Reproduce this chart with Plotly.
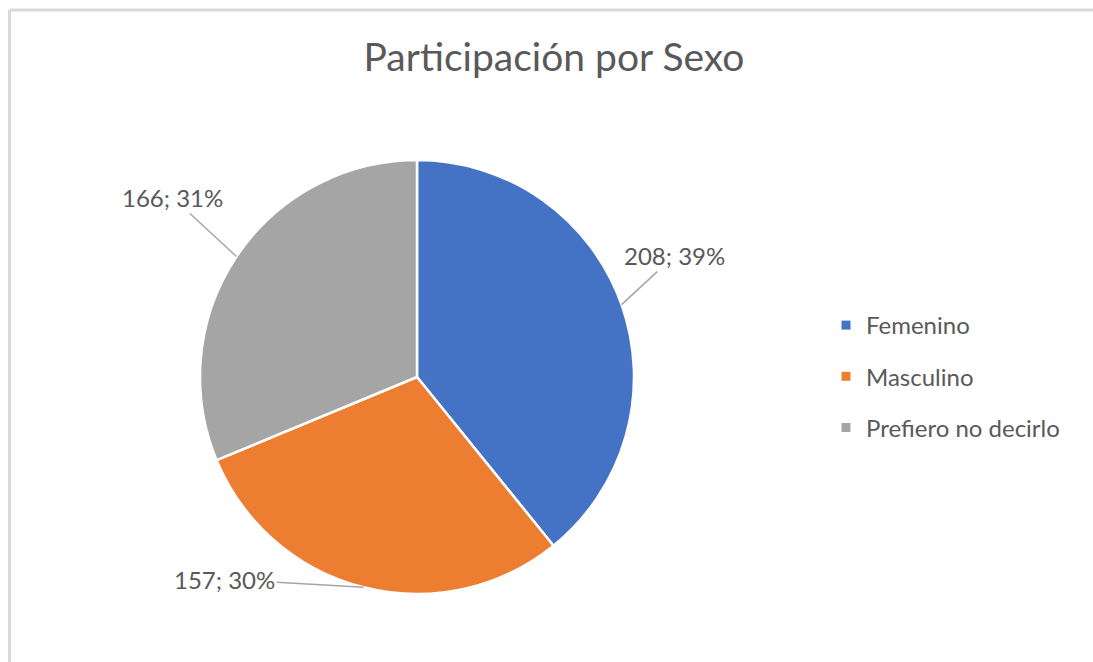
import math
import plotly.graph_objects as go

# ---- data ----
categories = ["Femenino", "Masculino", "Prefiero no decirlo"]
values = [208, 157, 166]
colors = ["#4472C4", "#ED7D31", "#A5A5A5"]
title_text = "Participación por Sexo"

# ---- layout / style ----
W, H = 1093, 662
CX, CY, R = 417, 377, 217          # pie centre and radius in pixels
label_offsets = [(53, -49), (-139, -8), (-64, -59)]   # pixel offset of label from slice edge
FONT = "Lato"
TXT = "#595959"

fig = go.Figure()
fig.add_trace(go.Pie(
    labels=categories, values=values, sort=False, direction="clockwise",
    rotation=0, marker=dict(colors=colors, line=dict(color="white", width=2.5)),
    textinfo="none", hoverinfo="skip", showlegend=False,
    domain=dict(x=[(CX - R) / W, (CX + R) / W], y=[1 - (CY + R) / H, 1 - (CY - R) / H]),
))

# legend entries (one per category)
for name, col in zip(categories, colors):
    fig.add_trace(go.Scatter(x=[None], y=[None], mode="markers", name=name,
                             legendgroup=name,
                             marker=dict(symbol="square", size=9, color=col)))

# data labels with leader lines, positioned from the slice mid-angles
total = sum(values)
cum = 0
annotations = []
for v, (ox, oy) in zip(values, label_offsets):
    mid = (cum + v / 2) / total * 2 * math.pi
    cum += v
    px = CX + R * math.sin(mid)
    py = CY - R * math.cos(mid)
    annotations.append(dict(
        x=px / W, y=1 - py / H, xref="paper", yref="paper",
        text=f"{v}; {round(v / total * 100)}%",
        showarrow=True, arrowhead=0, arrowwidth=1.5, arrowcolor="#A6A6A6",
        ax=ox, ay=oy, standoff=0, startstandoff=0,
        font=dict(family=FONT, size=24, color=TXT),
    ))

fig.update_layout(
    width=W, height=H,
    margin=dict(l=0, r=0, t=0, b=0),
    paper_bgcolor="white", plot_bgcolor="white",
    title=dict(text=title_text, x=554 / W, xanchor="center", y=1 - 57 / H, yanchor="middle",
               font=dict(family=FONT, size=39, color=TXT)),
    xaxis=dict(visible=False), yaxis=dict(visible=False),
    legend=dict(x=826 / W, xanchor="left", y=1 - 303 / H, yanchor="top",
                font=dict(family=FONT, size=24, color=TXT), tracegroupgap=17,
                bgcolor="rgba(0,0,0,0)"),
    annotations=annotations,
    shapes=[
        dict(type="line", xref="paper", yref="paper", x0=9.5 / W, x1=1, y0=1 - 10 / H, y1=1 - 10 / H,
             line=dict(color="#D9D9D9", width=3)),
        dict(type="line", xref="paper", yref="paper", x0=9.5 / W, x1=9.5 / W, y0=0, y1=1 - 10 / H,
             line=dict(color="#D9D9D9", width=3)),
    ],
)

fig.write_html("out.html", config={"displayModeBar": False},
               post_script="document.body.style.margin='0';document.body.style.overflow='hidden';")
